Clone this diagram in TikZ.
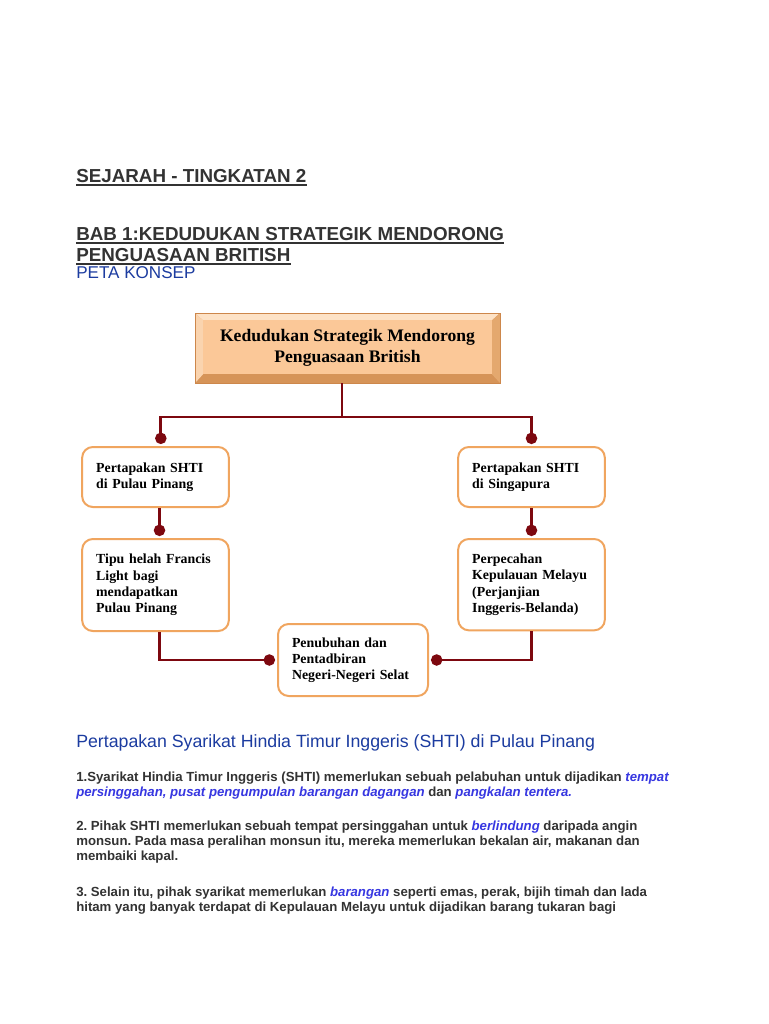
\documentclass[tikz,border=0pt]{standalone}
\usepackage{fontspec}
\setmainfont{Liberation Sans}
\newfontfamily\boxfont{Liberation Serif}
\usepackage{xcolor}
\usetikzlibrary{arrows.meta,positioning}
\frenchspacing

\definecolor{headgray}{RGB}{51,51,51}
\definecolor{headblue}{RGB}{28,60,160}
\definecolor{emblue}{RGB}{55,55,225}
\definecolor{linkred}{RGB}{125,8,15}
\definecolor{boxline}{RGB}{240,165,95}
\definecolor{peach}{RGB}{251,200,152}
\definecolor{bevlight}{RGB}{253,226,198}
\definecolor{bevleft}{RGB}{250,212,175}
\definecolor{bevright}{RGB}{228,168,110}
\definecolor{bevdark}{RGB}{214,148,88}
\definecolor{bevedge}{RGB}{205,135,75}

\newcommand{\blueit}[1]{{\color{emblue}\itshape #1}}

\begin{document}
\begin{tikzpicture}[x=0.75pt,y=-0.75pt,
    heading/.style={anchor=base west,inner sep=0pt,text=headgray,
        font=\bfseries\fontsize{14.1pt}{17pt}\selectfont},
    subhead/.style={anchor=base west,inner sep=0pt,text=headblue,
        font=\fontsize{13.3pt}{16pt}\selectfont},
    para/.style={anchor=base west,inner sep=0pt,text=headgray,
        font=\bfseries\fontsize{9.9pt}{11pt}\selectfont},
    uline/.style={draw=headgray,line width=1.1pt},
    box/.style={draw=boxline,line width=1.5pt,rounded corners=8pt,fill=white,
        align=left,text width=89pt,inner xsep=10.5pt,
        font=\boxfont\bfseries\fontsize{10.4pt}{12.2pt}\selectfont},
    bevelbox/.style={fill=bevdark,draw=bevedge,line width=0.6pt,align=center,
        font=\boxfont\bfseries\fontsize{13.2pt}{15.75pt}\selectfont,
        minimum width=228.75pt,minimum height=52.5pt,
        path picture={
        \fill[bevlight] (path picture bounding box.north west)
            -- (path picture bounding box.north east)
            -- ([shift={(-6pt,-5.5pt)}]path picture bounding box.north east)
            -- ([shift={(6pt,-5.5pt)}]path picture bounding box.north west) -- cycle;
        \fill[bevleft] (path picture bounding box.north west)
            -- ([shift={(6pt,-5.5pt)}]path picture bounding box.north west)
            -- ([shift={(6pt,6.5pt)}]path picture bounding box.south west)
            -- (path picture bounding box.south west) -- cycle;
        \fill[bevright] (path picture bounding box.north east)
            -- ([shift={(-6pt,-5.5pt)}]path picture bounding box.north east)
            -- ([shift={(-6pt,6.5pt)}]path picture bounding box.south east)
            -- (path picture bounding box.south east) -- cycle;
        \fill[peach] ([shift={(6pt,-5.5pt)}]path picture bounding box.north west)
            rectangle ([shift={(-6pt,6.5pt)}]path picture bounding box.south east);
        }},
    link/.style={draw=linkred,line width=2.2pt},
    dot/.style={-{Circle[length=8.5pt]},shorten >=1.5pt}
]
\fill[white] (0,0) rectangle (768,1024);
\useasboundingbox (0,0) rectangle (768,1024);

\node[heading] (title) at (76,182) {SEJARAH - TINGKATAN 2};
\node[heading] (bab1) at (76,240) {BAB 1:KEDUDUKAN STRATEGIK MENDORONG\ };
\node[heading] (bab2) at (76,261) {PENGUASAAN BRITISH};
\draw[uline] ([yshift=-2.2pt]title.base west) -- ([yshift=-2.2pt]title.base east);
\draw[uline] ([yshift=-2.2pt]bab1.base west) -- ([yshift=-2.2pt]bab1.base east);
\draw[uline] ([yshift=-2.2pt]bab2.base west) -- ([yshift=-2.2pt]bab2.base east);
\node[subhead,font=\fontsize{12.8pt}{15pt}\selectfont] (peta) at (76,278) {PETA KONSEP};

\node[bevelbox] (root) at (347.5,348)
    {Kedudukan Strategik Mendorong\\Penguasaan British};
\node[box,minimum height=45pt] (left1) at (155.5,477)
    {Pertapakan SHTI\\di Pulau Pinang};
\node[box,minimum height=69pt,below=22.5pt of left1] (left2)
    {Tipu helah Francis\\Light bagi\\mendapatkan\\Pulau Pinang};
\node[box,minimum height=45pt] (right1) at (531.5,477)
    {Pertapakan SHTI\\di Singapura};
\node[box,minimum height=68.5pt,below=22.5pt of right1] (right2)
    {Perpecahan\\Kepulauan Melayu\\(Perjanjian\\Inggeris-Belanda)};
\node[box,text width=91.5pt,minimum height=54pt] (pen) at (353,660)
    {Penubuhan dan\\Pentadbiran\\Negeri-Negeri Selat};

\coordinate (hub) at (342,417);
\draw[link] (root.south -| hub) -- (hub);
\draw[link,dot] (hub) -| ([xshift=4pt]left1.north);
\draw[link,dot] (hub) -| (right1.north);
\draw[link,dot] ([xshift=3pt]left1.south) -- ([xshift=3pt]left2.north);
\draw[link,dot] (right1.south) -- (right2.north);
\draw[link,dot] ([xshift=3pt]left2.south) |- (pen.west);
\draw[link,dot] (right2.south) |- (pen.east);

\node[subhead] (sec) at (76,747)
    {Pertapakan Syarikat Hindia Timur Inggeris (SHTI) di Pulau Pinang};
\node[para] (p1a) at (76,781)
    {1.Syarikat Hindia Timur Inggeris (SHTI) memerlukan sebuah pelabuhan untuk dijadikan \blueit{tempat}};
\node[para] (p1b) at (76,796)
    {\blueit{persinggahan, pusat pengumpulan barangan dagangan} dan \blueit{pangkalan tentera.}};
\node[para] (p2a) at (76,830)
    {2. Pihak SHTI memerlukan sebuah tempat persinggahan untuk \blueit{berlindung} daripada angin};
\node[para] (p2b) at (76,845)
    {monsun. Pada masa peralihan monsun itu, mereka memerlukan bekalan air, makanan dan};
\node[para] (p2c) at (76,860) {membaiki kapal.};
\node[para] (p3a) at (76,896)
    {3. Selain itu, pihak syarikat memerlukan \blueit{barangan} seperti emas, perak, bijih timah dan lada};
\node[para] (p3b) at (76,911)
    {hitam yang banyak terdapat di Kepulauan Melayu untuk dijadikan barang tukaran bagi};
\end{tikzpicture}
\end{document}
